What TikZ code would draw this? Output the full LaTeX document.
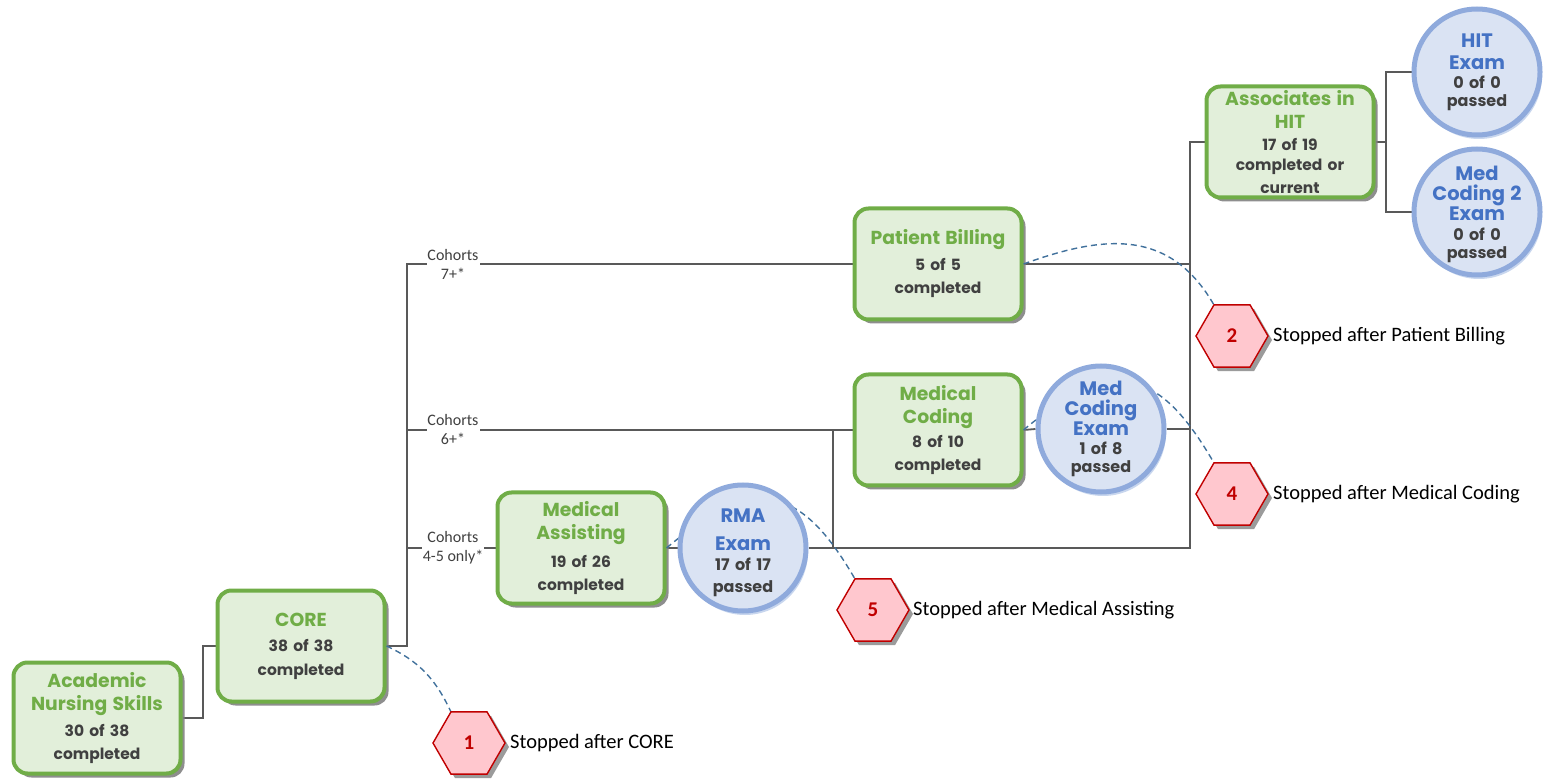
\documentclass[tikz,border=0pt]{standalone}
\usepackage{fontspec}
\setmainfont{Carlito}
\newfontfamily\gothic{Poppins}
\usetikzlibrary{shapes.geometric,shadows,calc}
\pgfdeclarelayer{back}
\pgfsetlayers{back,main}

\definecolor{boxgreen}{RGB}{112,173,71}
\definecolor{boxfill}{RGB}{226,239,218}
\definecolor{bodygray}{RGB}{64,64,64}
\definecolor{ringblue}{RGB}{143,170,220}
\definecolor{discfill}{RGB}{218,227,243}
\definecolor{ttlblue}{RGB}{68,114,196}
\definecolor{hexred}{RGB}{192,0,0}
\definecolor{hexfill}{RGB}{255,199,206}
\definecolor{wiregray}{RGB}{89,89,89}
\definecolor{dashblue}{RGB}{65,113,156}
\definecolor{shadowgray}{RGB}{130,130,130}
\definecolor{discshadow}{RGB}{200,214,238}

% text set inside the course boxes and exam discs
\newcommand\boxttl{\color{boxgreen}\fontsize{18.8}{23.5}\selectfont}
\newcommand\boxbody{\color{bodygray}\fontsize{15.5}{23.5}\selectfont}
\newcommand\discttl{\color{ttlblue}\fontsize{19.5}{20}\selectfont}
\newcommand\discbody{\color{bodygray}\fontsize{16}{20}\selectfont}

\begin{document}
\begin{tikzpicture}[x=1pt,y=1pt,
  course/.style={rectangle, rounded corners=14pt, draw=boxgreen, line width=4pt,
    fill=boxfill, minimum width=167pt, minimum height=111pt, inner sep=0pt,
    text width=165pt, align=center, font=\gothic\bfseries\fontsize{15.5}{23.5}\selectfont,
    drop shadow={shadow xshift=4pt, shadow yshift=-4pt, fill=shadowgray, opacity=0.9}},
  exam/.style={circle, draw=ringblue, line width=5pt, fill=discfill,
    minimum size=126pt, inner sep=0pt,
    drop shadow={shadow xshift=2pt, shadow yshift=-4pt, fill=discshadow, opacity=1}},
  disctext/.style={inner sep=0pt, text width=110pt, align=center,
    font=\gothic\bfseries\fontsize{16}{20}\selectfont},
  stophex/.style={regular polygon, regular polygon sides=6, minimum size=72pt,
    inner sep=0pt, draw=hexred, fill=hexfill, line width=1.4pt,
    text=hexred, font=\fontsize{21}{24}\selectfont\bfseries,
    drop shadow={shadow xshift=4pt, shadow yshift=-4pt, fill=shadowgray, opacity=0.8}},
  stoptext/.style={anchor=west, inner sep=0pt, font=\fontsize{20.5}{24}\selectfont},
  cohort/.style={fill=white, inner sep=1pt, align=center, text=bodygray,
    font=\fontsize{16}{19}\selectfont},
  wire/.style={draw=wiregray, line width=1.8pt},
  dropout/.style={draw=dashblue, line width=1.4pt, dash pattern=on 6pt off 4pt}
]
\useasboundingbox (0,0) rectangle (1543,-783);

% course boxes
\node[course] (ans) at (97,-718) {\boxttl Academic\\Nursing Skills\\[2pt]\boxbody 30 of 38\\completed};
\node[course] (core) at (301,-646) {\boxttl CORE\\[2pt]\boxbody 38 of 38\\completed};
\node[course] (ma) at (581,-548) {\boxttl Medical\\Assisting\\[4pt]\boxbody 19 of 26\\completed};
\node[course] (mc) at (938,-430) {\boxttl Medical\\Coding\\\boxbody 8 of 10\\completed};
\node[course] (pb) at (938,-264) {\boxttl Patient Billing\\[2pt]\boxbody 5 of 5\\completed};
\node[course] (ah) at (1290,-142) {\boxttl Associates in\\HIT\\[-2pt]\boxbody 17 of 19\\[-3pt]completed or\\[-1pt]current};

% dropout curves, running behind the exam discs
\draw[dropout] (core.east) to[out=-25, in=115] (451,-712) coordinate (h1top);
\draw[dropout] (pb.east) to[out=20, in=120, looseness=1.15] (1214,-305) coordinate (h2top);
\draw[dropout] (mc.east) to[out=40, in=120, looseness=1.5] (1214,-463) coordinate (h4top);
\draw[dropout] (ma.east) to[out=40, in=120, looseness=1.5] (855,-579) coordinate (h5top);

% exam discs, each with its text set on top
\node[exam] (rma) at (743,-548) {};
\node[disctext] (rmat) at (rma.center) {\discttl\rule{0pt}{24pt}RMA\\[8pt]Exam\\[0pt]\discbody 17 of 17\\[2pt]passed};
\node[exam] (mce) at (1101,-429) {};
\node[disctext] (mcet) at (mce.center) {\discttl Med\\Coding\\Exam\\[-1pt]\discbody 1 of 8\\[-2pt]passed};
\node[exam] (hit) at (1477,-72) {};
\node[disctext] (hitt) at (hit.center) {\discttl HIT\\[2pt]Exam\\[-1pt]\discbody 0 of 0\\[-2pt]passed};
\node[exam] (mc2) at (1477,-212) {};
\node[disctext] (mc2t) at (mc2.center) {\discttl\rule{0pt}{20pt}Med\\Coding 2\\Exam\\[0pt]\discbody 0 of 0\\[-2pt]passed};

% stop points
\node[stophex] (h1) at (469,-743) {1};
\node[stophex] (h5) at (873,-610) {5};
\node[stophex] (h2) at (1232,-336) {2};
\node[stophex] (h4) at (1232,-494) {4};
\node[stoptext] (s1) at (510,-743) {Stopped after CORE};
\node[stoptext] (s5) at (913,-610) {Stopped after Medical Assisting};
\node[stoptext] (s2) at (1273,-336) {Stopped after Patient Billing};
\node[stoptext] (s4) at (1273,-494) {Stopped after Medical Coding};

% junction points of the connectors
\coordinate (step0) at (203,-680);
\coordinate (trunk) at (407,-264);
\coordinate (join) at (833,-430);
\coordinate (bus) at (1190,-142);
\coordinate (fork) at (1386,-142);

\begin{pgfonlayer}{back}
\draw[wire] (ans.east) -| (step0) |- (core.west);
\draw[wire] (core.east) -| (trunk) -- (pb.west);
\draw[wire] (trunk |- mc.west) -- (mc.west);
\draw[wire] (trunk |- ma.west) -- (ma.west);
\draw[wire] (ma.east) -- (rma.west);
\draw[wire] (mc.east) -- (mce.west);
\draw[wire] (join) -- (join |- rma.east);
\draw[wire] (rma.east) -| (bus) -- (ah.west);
\draw[wire] (mce.east) -- (mce.east -| bus);
\draw[wire] (pb.east) -- (pb.east -| bus);
\draw[wire] (ah.east) -- (fork);
\draw[wire] (hit.west) -| (fork) |- (mc2.west);
\end{pgfonlayer}

% cohort labels on the trunk branches
\node[cohort] (c7) at (453,-264) {Cohorts\\7+*};
\node[cohort] (c6) at (453,-430) {Cohorts\\6+*};
\node[cohort] (c45) at (453,-548) {Cohorts\\4-5 only*};
\end{tikzpicture}
\end{document}
